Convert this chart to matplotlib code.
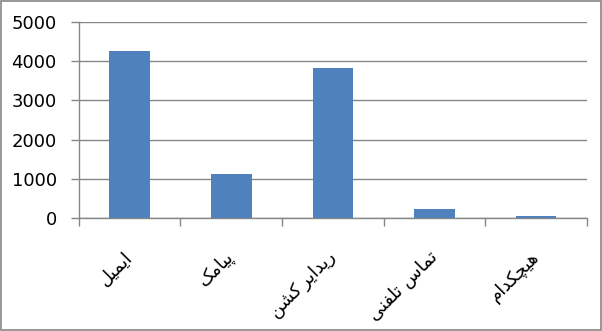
import matplotlib
matplotlib.use('Agg')
import matplotlib.pyplot as plt
from matplotlib.patches import Rectangle
import numpy as np

# Persian labels written in presentation forms, visual (left-to-right) order
categories = [
    '\uFEDE\uFBFF\uFEE4\uFBFE\uFE8D',                                  # ایمیل
    '\uFB8F\uFEE3\uFE8E\uFBFF\uFB58',                                  # پیامک
    '\uFEE6\uFEB8\uFB90\u2009\uFEAE\uFBFE\uFE8D\uFEAA\uFBFE\uFEAD',    # ریدایر کشن
    '\uFBFD\uFEE8\uFED4\uFEE0\uFE97 \uFEB1\uFE8E\uFEE4\uFE97',         # تماس تلفنی
    '\uFEE1\uFE8D\uFEAA\uFB91\uFB7D\uFBFF\uFEEB',                      # هیچکدام
]
values = [4250, 1130, 3820, 240, 55]
yticks = [0, 1000, 2000, 3000, 4000, 5000]

bar_color = '#4F81BD'
line_color = '#868686'

fig = plt.figure(figsize=(6.02, 3.31), dpi=100)
fig.patches.append(Rectangle((0.001, 0.002), 0.997, 0.995, transform=fig.transFigure,
                             fill=False, edgecolor=line_color, linewidth=1.2))

ax = fig.add_axes([0.131, 0.341, 0.844, 0.593])
x = np.arange(len(categories))
ax.bar(x, values, width=0.4, color=bar_color, zorder=3)

ax.set_ylim(0, 5000)
ax.set_xlim(-0.5, len(categories) - 0.5)
ax.set_yticks(yticks)
ax.set_yticklabels([str(v) for v in yticks], fontsize=13, family='DejaVu Sans')
ax.yaxis.grid(True, color=line_color, linewidth=1, zorder=0)
ax.tick_params(axis='y', length=6, pad=10, color=line_color, width=1)

ax.set_xticks(x)
ax.set_xticklabels(categories, rotation=45, ha='right', va='center',
                   rotation_mode='anchor', fontsize=13, family='DejaVu Sans')
ax.tick_params(axis='x', which='major', length=0, pad=26)
ax.set_xticks(np.arange(len(categories) + 1) - 0.5, minor=True)
ax.tick_params(axis='x', which='minor', length=6, color=line_color, width=1)

for s in ['top', 'right']:
    ax.spines[s].set_visible(False)
for s in ['left', 'bottom']:
    ax.spines[s].set_color(line_color)
    ax.spines[s].set_linewidth(1)

fig.savefig('out.png', dpi=100)
